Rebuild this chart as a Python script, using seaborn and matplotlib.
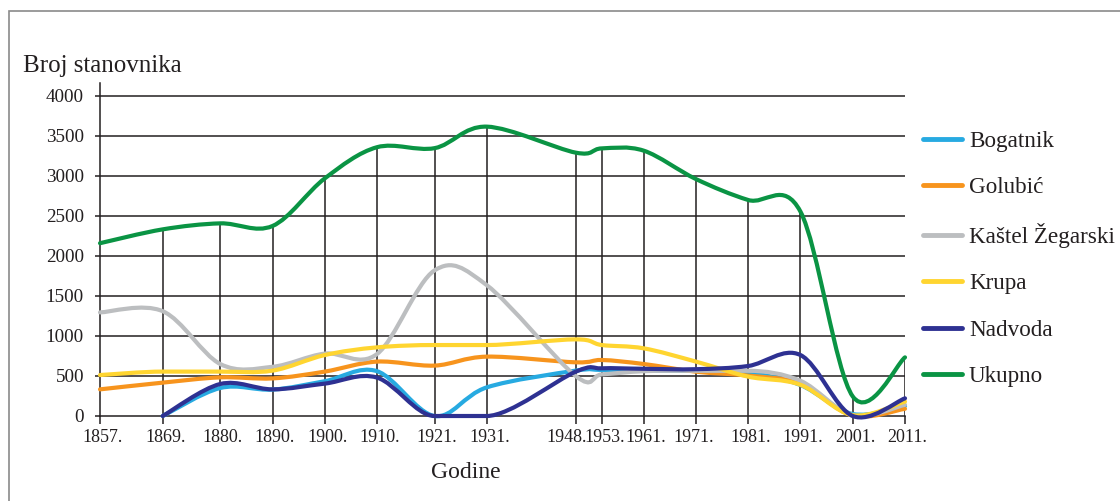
import numpy as np
import pandas as pd
import matplotlib
matplotlib.use("Agg")
import matplotlib.pyplot as plt
import seaborn as sns
from matplotlib.patheffects import AbstractPathEffect
from matplotlib.path import Path
from matplotlib.transforms import IdentityTransform, ScaledTranslation
from matplotlib.lines import Line2D
from matplotlib.patches import Rectangle

# ---------------- data ----------------
years = [1857, 1869, 1880, 1890, 1900, 1910, 1921, 1931, 1948, 1953, 1961, 1971, 1981, 1991, 2001, 2011]
bogatnik = [np.nan, 0, 350, 330, 435, 560, 0, 358, 567, 575, 567, 565, 542, 387, 25, 125]
golubic = [333, 417, 483, 470, 555, 680, 630, 742, 671, 700, 650, 554, 505, 405, 5, 90]
kastel = [1295, 1310, 650, 615, 780, 775, 1820, 1635, 500, 520, 560, 565, 565, 440, 10, 140]
krupa = [512, 555, 555, 567, 762, 858, 887, 887, 958, 887, 846, 680, 492, 390, 10, 180]
nadvoda = [np.nan, 0, 400, 333, 405, 480, 0, 0, 554, 596, 590, 585, 625, 762, 0, 221]
ukupno = [2160, 2333, 2408, 2375, 2970, 3360, 3348, 3617, 3292, 3345, 3317, 2962, 2700, 2555, 245, 733]

series_names = ["Bogatnik", "Golubić", "Kaštel Žegarski", "Krupa", "Nadvoda", "Ukupno"]
series_values = [bogatnik, golubic, kastel, krupa, nadvoda, ukupno]
colors = ["#27aae1", "#f7941d", "#bcbec0", "#ffd530", "#2e3192", "#0a9444"]
x_labels = [f"{y}." for y in years]
y_ticks = [0, 500, 1000, 1500, 2000, 2500, 3000, 3500, 4000]

y_title = "Broj stanovnika"
x_title = "Godine"

# long-form table for seaborn
rows = []
for name, vals in zip(series_names, series_values):
    for yr, v in zip(years, vals):
        if not np.isnan(v):
            rows.append({"Godina": yr, "Broj": v, "Naselje": name})
df = pd.DataFrame(rows)


class SmoothCurve(AbstractPathEffect):
    """Render a polyline as a smooth Bezier curve through its vertices."""

    def __init__(self, f=1 / 6):
        super().__init__()
        self.f = f

    def draw_path(self, renderer, gc, tpath, affine, rgbFace=None):
        v = affine.transform(tpath.vertices)
        v = v[np.isfinite(v).all(axis=1)]
        n = len(v)
        if n < 3:
            renderer.draw_path(gc, Path(v), IdentityTransform(), rgbFace)
            return
        tang = []
        for i in range(n):
            p0 = v[i - 1] if i > 0 else v[i]
            p2 = v[i + 1] if i + 1 < n else v[i]
            t = (p2 - p0) * self.f
            # exactly flat neighbour segment -> keep the curve flat there
            if 0 < i < n - 1:
                if abs(v[i][1] - v[i - 1][1]) < 1e-6 or abs(v[i + 1][1] - v[i][1]) < 1e-6:
                    t = np.array([t[0], 0.0])
            tang.append(t)
        verts = [v[0]]
        codes = [Path.MOVETO]
        for i in range(n - 1):
            verts += [v[i] + tang[i], v[i + 1] - tang[i + 1], v[i + 1]]
            codes += [Path.CURVE4] * 3
        renderer.draw_path(gc, Path(np.array(verts), codes), IdentityTransform(), rgbFace)


# ---------------- style ----------------
sns.set_theme(style="white")
plt.rcParams["font.family"] = ["Liberation Serif", "DejaVu Serif"]
plt.rcParams["path.simplify"] = False
ink = "#231f20"

W, H = 1120, 501
fig = plt.figure(figsize=(W / 100, H / 100), dpi=100)
ax = fig.add_axes([100 / W, 85 / H, 805 / W, 333 / H])

sns.lineplot(data=df, x="Godina", y="Broj", hue="Naselje", hue_order=series_names,
             palette=colors, linewidth=3.0, legend=False, errorbar=None,
             ax=ax, zorder=3)
for ln in ax.lines:
    ln.set_path_effects([SmoothCurve()])
    ln.set_clip_on(False)
    ln.set_solid_capstyle("round")
    ln.set_solid_joinstyle("round")

ax.set_xlim(years[0], years[-1])
ax.set_ylim(0, 4000 * 333 / 320)

# horizontal grid + drop lines to the total
ax.hlines(y_ticks[1:], years[0], years[-1], color=ink, lw=1.1, zorder=1)
ax.vlines(years[1:], 0, ukupno[1:], color=ink, lw=1.1, zorder=1.5)

for s in ["top", "right"]:
    ax.spines[s].set_visible(False)
for s in ["left", "bottom"]:
    ax.spines[s].set_color(ink)
    ax.spines[s].set_linewidth(1.1)
    ax.spines[s].set_zorder(2)

ax.set_xticks(years, x_labels)
ax.set_yticks(y_ticks, [str(t) for t in y_ticks])
ax.tick_params(axis="x", direction="out", length=6, width=1.1, color=ink,
               labelsize=13, pad=3, labelcolor=ink, bottom=True)
ax.tick_params(axis="y", direction="out", length=3.6, width=1.1, color=ink,
               labelsize=13.8, pad=8, labelcolor=ink, left=True)
label_shift = {1948: -12, 1971: -5}
for yr, lbl in zip(years, ax.get_xticklabels()):
    dx = 2.5 + label_shift.get(yr, 0)
    lbl.set_transform(lbl.get_transform() + ScaledTranslation(dx / 100, 0, fig.dpi_scale_trans))
ax.set_xlabel("")
ax.set_ylabel("")

fig.text(23 / W, 1 - 72 / H, y_title, fontsize=18, color=ink, ha="left", va="baseline")
fig.text(466 / W, 1 - 478 / H, x_title, fontsize=17, color=ink, ha="center", va="baseline")

handles = [Line2D([0], [0], color=c, lw=3.5) for c in colors]
fig.legend(handles, series_names, loc="upper left",
           bbox_to_anchor=(923 / W, 1 - 130.5 / H), frameon=False, fontsize=16.7,
           handlelength=1.68, handletextpad=0.3, labelspacing=1.08,
           borderpad=0, borderaxespad=0, labelcolor=ink)

# figure frame
fig.patches.append(Rectangle((9 / W, -0.05), 1.2, (1 - 11 / H) + 0.05,
                             transform=fig.transFigure, fill=False,
                             edgecolor="#8a8a8a", lw=1.2))

fig.savefig("out.png", dpi=100, facecolor="white")
